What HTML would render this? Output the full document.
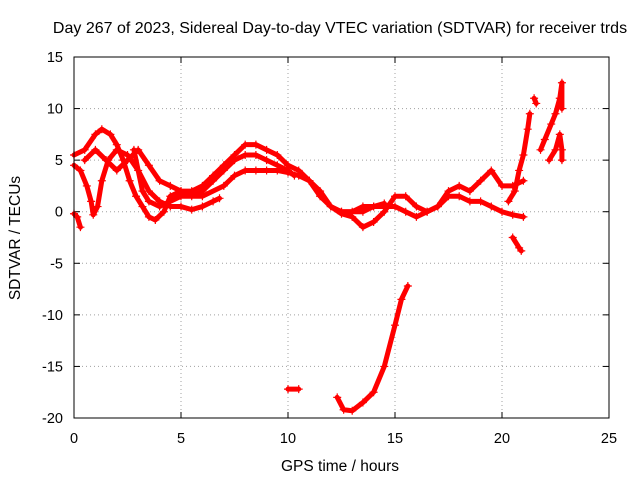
<!DOCTYPE html>
<html><head><meta charset="utf-8"><style>
body{margin:0;background:#fff;}
svg{display:block;font-family:"Liberation Sans",sans-serif;}
</style></head><body>
<svg id="c" width="640" height="480">
<text x="340" y="33" text-anchor="middle" font-size="16">Day 267 of 2023, Sidereal Day-to-day VTEC variation (SDTVAR) for receiver trds</text>
<text x="340" y="471" text-anchor="middle" font-size="15.5">GPS time / hours</text>
<text transform="translate(20,238) rotate(-90)" text-anchor="middle" font-size="15.5">SDTVAR / TECUs</text>
<g id="grid"></g><g id="ticks"></g><g id="series"></g>
<rect x="74" y="57" width="535" height="361" fill="none" stroke="#000"/>
</svg>
<script>
const xTicks=[0,5,10,15,20,25];
const yTicks=[15,10,5,0,-5,-10,-15,-20];
const trackA=[[0,-0.2],[0.15,-0.5],[0.3,-1.5]];
const trackB=[[0,4.5],[0.3,4],[0.6,2.5],[0.8,1],[0.9,-0.3],[1.1,0.5],[1.3,3],[1.6,5],[2,6],[2.5,5.5],[3,4],[3.5,2],[4,1],[4.5,0.5],[5,0.5],[5.5,0.2],[6,0.5],[6.5,1],[6.8,1.3]];
const trackC=[[0,5.5],[0.5,6],[1,7.5],[1.3,8],[1.7,7.5],[2,6.5],[2.3,5],[2.6,3],[2.9,1.5],[3.2,0.5],[3.5,-0.5],[3.8,-0.8],[4.2,0],[4.5,1.5],[5,2],[5.5,2],[6,2.5],[6.5,3.5],[7,4.5],[7.5,5.5],[8,6.5],[8.5,6.5],[9,6],[9.5,5.5],[10,4.5],[10.5,4],[11,3],[11.5,1.5],[12,0.5],[12.5,0],[13,0],[13.5,0.5],[14,0.5],[14.5,0.8]];
const trackD=[[0.5,5],[1,6],[1.5,5],[2,4],[2.5,5],[3,6],[3.5,4.5],[4,3],[4.5,2.5],[5,2],[5.5,1.5],[6,2],[6.5,3],[7,4],[7.5,5],[8,5.5],[8.5,5.5],[9,5],[9.5,4.5],[10,4],[10.3,3.5]];
const trackE=[[2.8,6],[3.2,2],[3.5,1],[4,0.5],[5,1.5],[6,1.5],[7,2.5],[7.5,3.5],[8,4],[8.5,4],[9,4],[9.5,4],[10,3.8],[10.5,3.5],[11,3],[11.5,2],[12,0.5],[12.5,-0.2],[13,-0.5],[13.5,-1.5],[14,-1],[14.5,0],[15,1.5],[15.5,1.5],[16,0.5],[16.5,0],[17,0.5],[17.5,1.5],[18,1.5],[18.5,1],[19,1],[19.5,0.5],[20,0],[20.5,-0.3],[21,-0.5]];
const trackF=[[12.5,0],[13.5,0],[14,0.5],[15,0.5],[15.5,0],[16,-0.5],[16.5,0],[17,0.5],[17.5,2],[18,2.5],[18.5,2],[19,3],[19.5,4],[20,2.5],[20.5,2.5],[21,3]];
const trackH=[[10,-17.2],[10.5,-17.2]];
const trackI=[[12.3,-18],[12.6,-19.2],[13,-19.3],[13.5,-18.5],[14,-17.5],[14.5,-15],[15,-11],[15.3,-8.5],[15.6,-7.2]];
const trackJ=[[20.3,1],[20.6,2],[20.8,4],[21,5.5],[21.2,8],[21.3,9.5]];
const trackK=[[20.5,-2.5],[20.8,-3.5],[20.9,-3.8]];
const trackL=[[21.5,11],[21.6,10.5]];
const trackM=[[21.8,6],[22,7],[22.3,8.5],[22.5,9.5],[22.7,11],[22.8,12.5],[22.8,10]];
const trackN=[[22.2,5],[22.5,6],[22.7,7.5],[22.8,6],[22.8,5]];
const tracks=[trackA,trackB,trackC,trackD,trackE,trackF,trackH,trackI,trackJ,trackK,trackL,trackM,trackN];
const X=h=>74+h*535/25, Y=v=>57+(15-v)*361/35;
const NS='http://www.w3.org/2000/svg';
const grid=document.getElementById('grid'),ticks=document.getElementById('ticks'),ser=document.getElementById('series');
function mk(tag,attrs,parent){const e=document.createElementNS(NS,tag);for(const k in attrs)e.setAttribute(k,attrs[k]);parent.appendChild(e);return e;}
xTicks.forEach(t=>{
 const x=X(t);
 if(t>0&&t<25){const g=mk('line',{x1:x,x2:x,y1:57,y2:418,stroke:'#a0a0a0','stroke-dasharray':'1,3'},grid);
 
 }
 const l=mk('text',{x:x,y:443,'text-anchor':'middle','font-size':14.5},ticks);l.textContent=t;
 
 
 mk('line',{x1:x,x2:x,y1:418,y2:412,stroke:'#000'},ticks);mk('line',{x1:x,x2:x,y1:57,y2:63,stroke:'#000'},ticks);
});
yTicks.forEach(t=>{
 const y=Y(t);
 if(t<15&&t>-20){const g=mk('line',{x1:74,x2:609,y1:y,y2:y,stroke:'#a0a0a0','stroke-dasharray':'1,3'},grid);
 
 }
 const l=mk('text',{x:63,y:y+5,'text-anchor':'end','font-size':14.5},ticks);l.textContent=t;
 
 
 mk('line',{x1:74,x2:80,y1:y,y2:y,stroke:'#000'},ticks);mk('line',{x1:609,x2:603,y1:y,y2:y,stroke:'#000'},ticks);
});
tracks.forEach((tr,i)=>{
 const p=mk('polyline',{points:tr.map(d=>X(d[0])+','+Y(d[1])).join(' '),fill:'none',stroke:'#f00','stroke-width':5,'stroke-linejoin':'round','stroke-linecap':'round'},ser);
 
 
 tr.forEach(d=>{const x=X(d[0]),y=Y(d[1]);
  const m=mk('path',{d:`M${x-4},${y}H${x+4}M${x},${y-4}V${y+4}`,stroke:'#f00','stroke-width':1.2},ser);
  
  });
});
</script>
</body></html>
